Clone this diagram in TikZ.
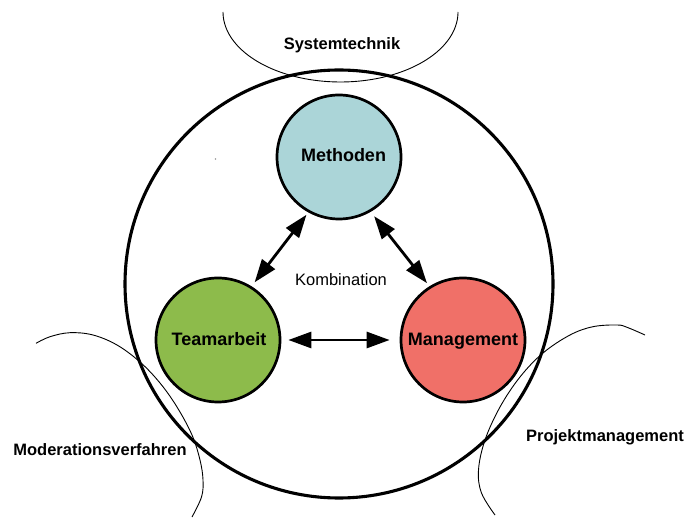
\documentclass[tikz,border=0pt]{standalone}
\usepackage{fontspec}
\setmainfont{Liberation Sans}
\usetikzlibrary{arrows.meta}
\definecolor{methodencol}{HTML}{ABD5D8}
\definecolor{teamcol}{HTML}{8DBB4B}
\definecolor{mgmtcol}{HTML}{F07068}
\begin{document}
\begin{tikzpicture}[x=1pt,y=-1pt,
  ring/.style={circle, draw=black, line width=2.7pt, minimum size=124pt, inner sep=0pt},
  inlabel/.style={font=\fontsize{18}{20}\selectfont\bfseries, anchor=base, inner sep=0pt},
  outlabel/.style={font=\fontsize{16.5}{19}\selectfont\bfseries, anchor=base, inner sep=0pt},
  thinarc/.style={line width=0.9pt},
  link/.style={line width=2.8pt, {Triangle[length=23pt,width=16pt]}-{Triangle[length=23pt,width=16pt]}}
]
\useasboundingbox (0,0) rectangle (688,518);

% outer field arcs
\draw[thinarc] plot[domain=0:180, samples=90] ({340.5+117.5*cos(\x)}, {12+70*sin(\x)});
\draw[thinarc] plot[smooth, tension=0.6] coordinates {
  (36,343.3) (50,336.7) (70,332.7) (93,335) (117,345) (140,362) (160,383)
  (177,407) (192,435) (200,460) (203,480) (201.5,497) (192,517)};
\draw[thinarc] plot[smooth, tension=0.6] coordinates {
  (645,335) (627,327.3) (617,325) (593,326.7) (570,335) (543,353) (520,377)
  (500,407) (485,440) (478.5,470) (481.5,493) (495,515)};

% enclosing circle
\draw[line width=3.1pt] (339,284) circle (214pt);

% the three pillars
\node[ring, fill=methodencol] (m) at (339,157) {};
\node[ring, fill=teamcol] (t) at (218,340) {};
\node[ring, fill=mgmtcol] (g) at (463,340) {};

\node[inlabel] (mlab) at (343.5,162) {Methoden};
\node[inlabel] (tlab) at (219,346) {Teamarbeit};
\node[inlabel] (glab) at (463,346) {Management};

% combinations
\draw[link, shorten <=3pt, shorten >=5pt] (m.241) -- (t.58);
\draw[link, shorten <=5.5pt, shorten >=4pt] (m.300) -- (g.122.6);
\draw[link, shorten <=7pt, shorten >=10pt] (t.0) -- (g.180);

\node[font=\fontsize{16.5}{19}\selectfont, anchor=base, inner sep=0pt] (komb) at (341,286) {Kombination};

% field labels
\node[outlabel] (sys) at (342,50) {Systemtechnik};
\node[outlabel] (mod) at (100,455) {Moderationsverfahren};
\node[outlabel] (proj) at (605,441.5) {Projektmanagement};

\fill[gray!80] (215.5,159) circle (0.8pt);
\end{tikzpicture}
\end{document}
